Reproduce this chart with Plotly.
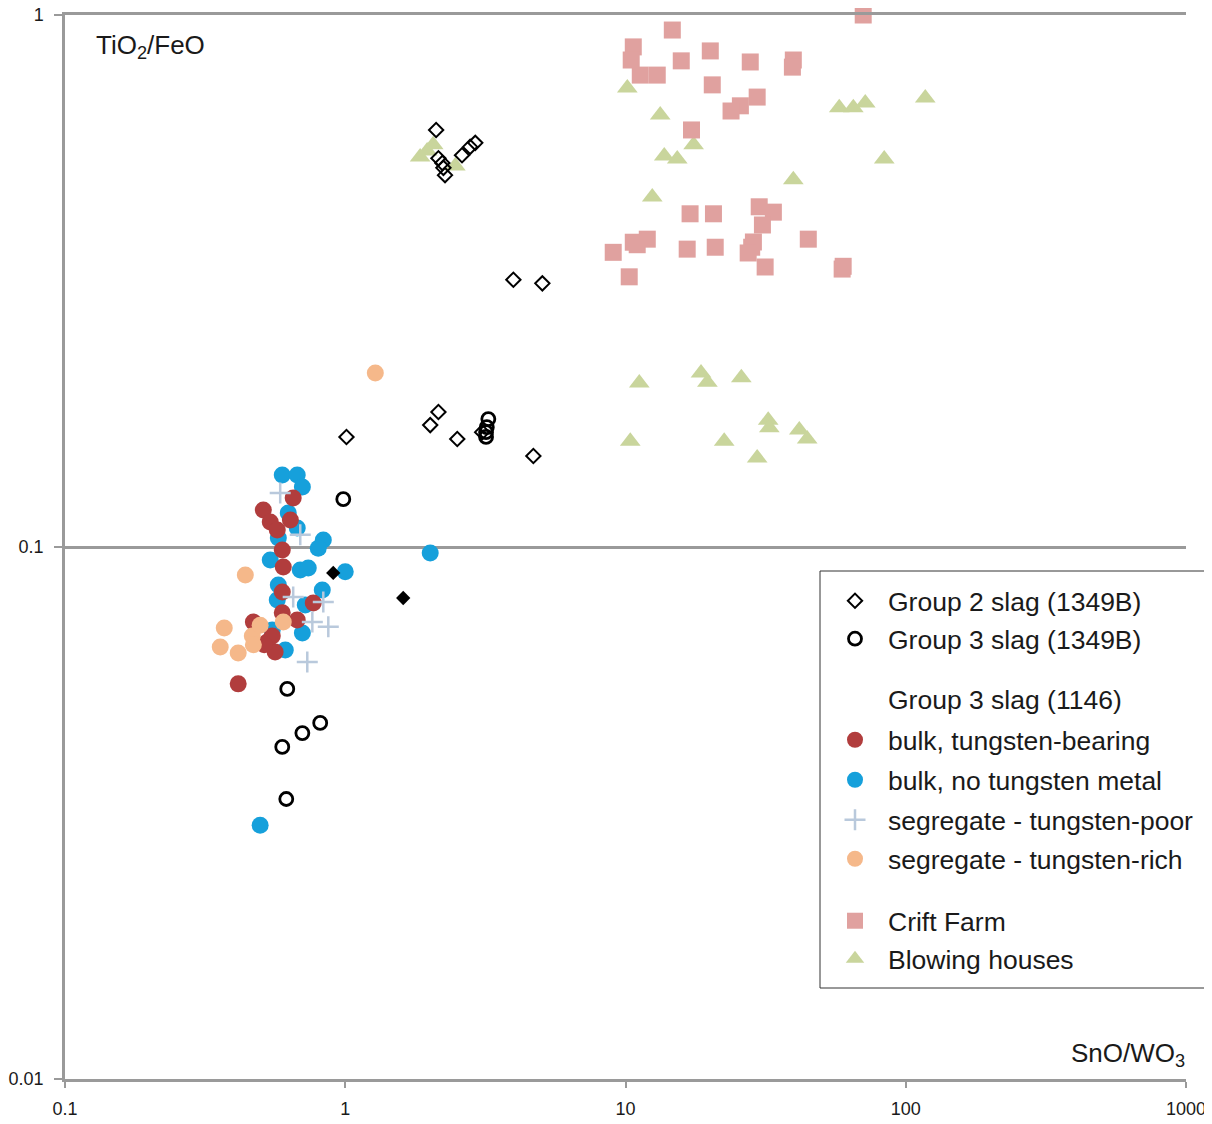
import plotly.graph_objects as go

# ---------------- data (SnO/WO3, TiO2/FeO) ----------------
g2_x = [2.11, 2.22, 2.24, 2.27, 2.15, 2.61, 2.79, 2.91, 3.98, 5.05, 2.15, 2.01, 2.51, 3.08, 4.69, 1.01]
g2_y = [0.608, 0.527, 0.516, 0.500, 0.538, 0.545, 0.565, 0.575, 0.318, 0.313, 0.1794, 0.1695, 0.1596, 0.1644, 0.1483, 0.161]

g2f_x = [0.906, 1.61]
g2f_y = [0.0894, 0.0802]

g3_x = [0.984, 0.621, 0.703, 0.814, 0.596, 0.616, 3.24, 3.18, 3.18, 3.20]
g3_y = [0.123, 0.0541, 0.0447, 0.0467, 0.0421, 0.0336, 0.174, 0.1644, 0.161, 0.168]

red_x = [0.510, 0.540, 0.572, 0.652, 0.637, 0.596, 0.601, 0.596, 0.769, 0.674, 0.470, 0.527, 0.562, 0.596, 0.415, 0.549, 0.514]
red_y = [0.1174, 0.1114, 0.1076, 0.1236, 0.1124, 0.0987, 0.0917, 0.0823, 0.0785, 0.0729, 0.0723, 0.0663, 0.0635, 0.0752, 0.0553, 0.068, 0.0655]

blue_x = [0.596, 0.674, 0.703, 0.626, 0.674, 0.577, 0.835, 0.801, 0.540, 0.691, 0.738, 1.00, 0.577, 0.828, 0.572, 0.720, 0.549, 0.703, 0.611, 2.01, 0.497]
blue_y = [0.1365, 0.1365, 0.1297, 0.1159, 0.1086, 0.104, 0.1031, 0.0995, 0.0945, 0.0905, 0.0913, 0.0898, 0.0848, 0.083, 0.0795, 0.0778, 0.0698, 0.0689, 0.064, 0.0974, 0.030]

poor_x = [0.586, 0.691, 0.652, 0.835, 0.763, 0.870, 0.732]
poor_y = [0.1263, 0.1054, 0.0805, 0.0788, 0.0723, 0.0708, 0.0608]

rich_x = [0.440, 0.370, 0.358, 0.415, 0.466, 0.497, 0.601, 1.28, 0.470]
rich_y = [0.0886, 0.0704, 0.0649, 0.0632, 0.068, 0.0713, 0.0723, 0.2124, 0.0655]

crift_x = [14.69, 10.66, 10.48, 11.29, 12.98, 15.81, 20.07, 27.87, 39.7, 39.4, 20.4, 29.5, 25.7, 23.8, 17.2, 70.5,
           17.0, 20.6, 30.0, 33.7, 30.8, 44.9, 11.96, 11.01, 10.66, 9.04, 16.6, 20.9, 28.6, 28.2, 27.4, 31.5, 10.31, 59.3, 59.8]
crift_y = [0.937, 0.871, 0.823, 0.771, 0.771, 0.820, 0.856, 0.816, 0.823, 0.798, 0.739, 0.701, 0.675, 0.660, 0.608, 1.0,
           0.423, 0.423, 0.436, 0.426, 0.403, 0.379, 0.379, 0.370, 0.374, 0.358, 0.363, 0.366, 0.3744, 0.366, 0.357, 0.336, 0.322, 0.333, 0.337]

blow_x = [10.15, 13.3, 17.5, 13.75, 15.3, 12.46, 39.7, 57.9, 65.0, 71.7, 83.8, 117.4, 1.85, 1.96, 2.06, 2.47,
          11.2, 18.6, 19.6, 25.9, 10.4, 22.5, 29.5, 32.3, 32.6, 41.7, 44.5]
blow_y = [0.729, 0.649, 0.570, 0.543, 0.536, 0.455, 0.490, 0.669, 0.669, 0.683, 0.536, 0.698, 0.541, 0.555, 0.570, 0.520,
          0.2034, 0.2124, 0.204, 0.208, 0.158, 0.158, 0.147, 0.173, 0.1675, 0.166, 0.1596]

x_ticks = [0.1, 1, 10, 100, 1000]
x_tick_text = ["0.1", "1", "10", "100", "1000"]
y_ticks = [0.01, 0.1, 1]
y_tick_text = ["0.01", "0.1", "1"]

# ---------------- layout helpers ----------------
W, H = 1212, 1124
OFF = 8                      # page body margin
ML, MT = 57, 7
PW, PH = 1121, 1064
MR, MB = W - ML - PW, H - MT - PH


def px_x(p):  # page pixel -> paper fraction
    return (p - OFF - ML) / PW


def px_y(p):
    return 1 - (p - OFF - MT) / PH


FONT = "Liberation Sans, Arial, sans-serif"
TXT = "#1a1a1a"

fig = go.Figure()

specs = [
    dict(name="Blowing houses", x=blow_x, y=blow_y, legend="legend8",
         marker=dict(symbol="triangle-up", size=18, color="#C9D59C")),
    dict(name="Crift Farm", x=crift_x, y=crift_y, legend="legend7",
         marker=dict(symbol="square", size=17, color="#E0A19F")),
    dict(name="bulk, no tungsten metal", x=blue_x, y=blue_y, legend="legend4",
         marker=dict(symbol="circle", size=17, color="#16A0DB")),
    dict(name="bulk, tungsten-bearing", x=red_x, y=red_y, legend="legend3",
         marker=dict(symbol="circle", size=17, color="#B13D3D")),
    dict(name="segregate - tungsten-poor", x=poor_x, y=poor_y, legend="legend5",
         marker=dict(symbol="cross-thin-open", size=15, color="#B9C9DC",
                     line=dict(width=2.5, color="#B9C9DC"))),
    dict(name="segregate - tungsten-rich", x=rich_x, y=rich_y, legend="legend6",
         marker=dict(symbol="circle", size=17, color="#F5B88A")),
    dict(name="Group 3 slag (1349B)", x=g3_x, y=g3_y, legend="legend2",
         marker=dict(symbol="circle-open", size=13, color="#000000",
                     line=dict(width=2.8, color="#000000"))),
    dict(name="Group 2 slag (1349B)", x=g2_x, y=g2_y, legend="legend",
         marker=dict(symbol="diamond-open", size=11, color="#000000",
                     line=dict(width=2, color="#000000"))),
]

for s in specs:
    fig.add_trace(go.Scatter(x=s["x"], y=s["y"], mode="markers", name=s["name"],
                             marker=s["marker"], legend=s["legend"], cliponaxis=False))

fig.add_trace(go.Scatter(x=g2f_x, y=g2f_y, mode="markers", showlegend=False,
                         marker=dict(symbol="diamond", size=11, color="#000000")))

rows = {"legend": 601, "legend2": 639, "legend3": 740, "legend4": 780,
        "legend5": 820, "legend6": 859, "legend7": 921, "legend8": 959}
leg_left = 822
legend_layout = {}
for key, ry in rows.items():
    legend_layout[key] = dict(
        x=px_x(leg_left), xanchor="left", y=px_y(ry), yanchor="middle",
        bgcolor="rgba(0,0,0,0)", borderwidth=0, itemwidth=56,
        font=dict(family=FONT, size=26.5, color=TXT),
    )

# legend frame (open on the right, where the page cuts it)
bx0, bx1 = px_x(820), px_x(1260)
by0, by1 = px_y(988), px_y(571)
frame_path = f"M {bx1},{by1} L {bx0},{by1} L {bx0},{by0} L {bx1},{by0}"

fig.update_layout(
    width=W, height=H,
    margin=dict(l=ML, r=MR, t=MT, b=MB, autoexpand=False),
    paper_bgcolor="white", plot_bgcolor="white",
    showlegend=True,
    **legend_layout,
    xaxis=dict(type="log", range=[-1, 3], tickvals=x_ticks, ticktext=x_tick_text,
               showgrid=False, zeroline=False, showline=True, linecolor="#9a9a9a",
               linewidth=3, mirror=True, ticks="outside", ticklen=6, tickwidth=2,
               tickcolor="#9a9a9a", ticklabelstandoff=5, ticklabeloverflow="allow",
               tickfont=dict(family=FONT, size=18, color=TXT)),
    yaxis=dict(type="log", range=[-2, 0], tickvals=y_ticks, ticktext=y_tick_text,
               showgrid=True, gridcolor="#9a9a9a", gridwidth=2.5, zeroline=False,
               showline=True, linecolor="#9a9a9a", linewidth=2.5, ticks="outside",
               ticklen=8, tickwidth=2, tickcolor="#9a9a9a", ticklabelstandoff=7,
               ticklabeloverflow="allow",
               tickfont=dict(family=FONT, size=18, color=TXT)),
    shapes=[dict(type="path", xref="paper", yref="paper", path=frame_path,
                 line=dict(color="#333333", width=1))],
    annotations=[
        dict(text="TiO<sub>2</sub>/FeO", xref="paper", yref="paper",
             x=px_x(94), y=px_y(46), xanchor="left", yanchor="middle", showarrow=False,
             font=dict(family=FONT, size=26, color=TXT)),
        dict(text="SnO/WO<sub>3</sub>", xref="paper", yref="paper",
             x=px_x(1187), y=px_y(1054), xanchor="right", yanchor="middle", showarrow=False,
             font=dict(family=FONT, size=26, color=TXT)),
        dict(text="Group 3 slag (1146)", xref="paper", yref="paper",
             x=px_x(886), y=px_y(700), xanchor="left", yanchor="middle", showarrow=False,
             font=dict(family=FONT, size=26.5, color=TXT)),
    ],
)

fig.write_html("out.html")
